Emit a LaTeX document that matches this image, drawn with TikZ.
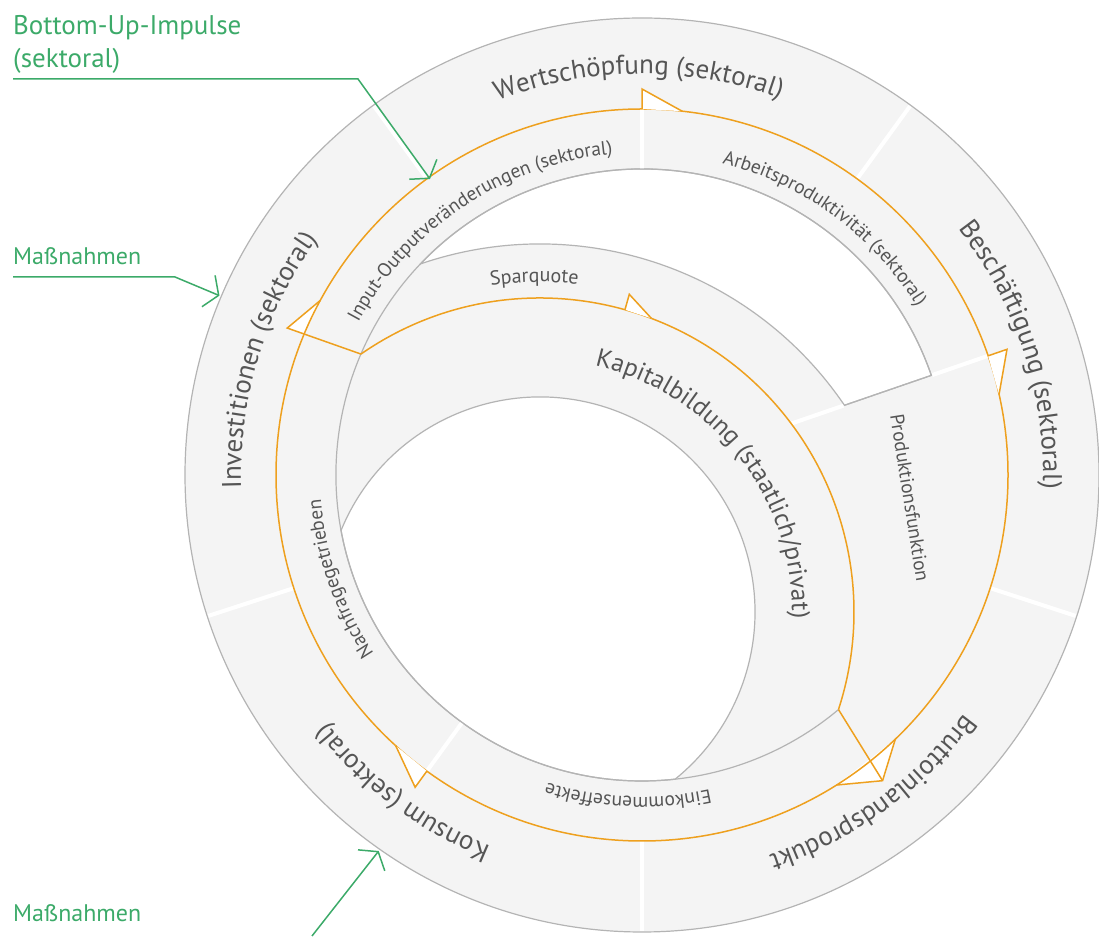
\documentclass[tikz,border=0pt]{standalone}
\usepackage{fontspec}
\setmainfont{PT Sans}
\usetikzlibrary{calc,decorations.text,arrows.meta}
\definecolor{bgray}{RGB}{244,244,244}
\definecolor{egray}{RGB}{180,180,180}
\definecolor{orng}{RGB}{238,160,30}
\definecolor{grn}{RGB}{60,170,105}
\definecolor{txtgray}{RGB}{85,85,85}
\newcommand\arctext[6]{%
 \path[decorate,decoration={text along path,text align=center,
   text={|\fontsize{#5pt}{#5pt}\selectfont\color{txtgray}|#6}}]
   ($(#1)+({#3+#4}:#2)$) arc[start angle={#3+#4}, end angle={#3-#4}, radius=#2];}
\begin{document}
\begin{tikzpicture}[x=1pt,y=1pt,
  edgeline/.style={draw=egray,line width=1.2pt},
  sepline/.style={draw=white,line width=4pt},
  orline/.style={draw=orng,line width=1.5pt,line join=miter},
  ohead/.style={fill=white,draw=orng,line width=1.5pt},
  garrow/.style={draw=grn,line width=1.5pt,-{Straight Barb[length=11pt,width=34pt,line width=1.5pt]}},
  glabel/.style={text=grn,inner sep=0pt,anchor=base west}]
\useasboundingbox (0,0) rectangle (1099,936);
\coordinate (M) at (642,461);
\coordinate (I) at (540,324);
% main disk
\fill[bgray] (M) circle[radius=457];
% white gap between the two inner bands
\path[fill=white,edgeline] ($(M)+(136.4:306)$) arc[start angle=136.4,end angle=19,radius=306]
  -- ($(M)+(19:214.1)$) arc[start angle=34.17,end angle=108.96,radius=368] -- cycle;
% white hole
\path[fill=white,edgeline] ($(M)+(190.43:306)$) arc[start angle=157.7,end angle=-51.04,radius=215]
  arc[start angle=276.23,end angle=190.43,radius=306] -- cycle;
% separators
\foreach \a in {126,54,-18,-90,198}
  \draw[sepline] ($(M)+(\a:366)$) -- ($(M)+(\a:456)$);
\foreach \a in {90,234}
  \draw[sepline] ($(M)+(\a:306)$) -- ($(M)+(\a:366)$);
\draw[sepline] ($(M)+(19:158)$) -- ($(M)+(19:213)$);
\draw[sepline] ($(M)+(19:307)$) -- ($(M)+(19:366)$);
% gray edges
\draw[edgeline] ($(M)+(19:306)$) arc[start angle=19,end angle=309.95,radius=306];
\draw[edgeline] ($(M)+(19:214.1)$) -- ($(M)+(19:306)$);
\draw[edgeline] (M) circle[radius=457];
% orange cycle
\coordinate (L) at ($(I)+(124.77:314)$);
\coordinate (R) at ($(I)+(-18.1:314)$);
\coordinate (tipL) at ($(M)+(157.5:384)$);
\coordinate (tipR) at ($(M)+(-51.8:389)$);
\fill[white] (tipL) -- ($(M)+(151.5:366)$) -- ($(M)+(157.35:366)$) -- cycle;
\fill[white] (tipR) -- ($(M)+(-46.2:366)$) -- ($(M)+(-57.9:366)$) -- cycle;
\draw[orline] (M) circle[radius=366];
\draw[orline] (L) arc[start angle=124.77,end angle=-18.1,radius=314];
\draw[orline] (L) -- (tipL) -- ($(M)+(151.5:366)$);
\draw[orline] (R) -- (tipR);
\draw[orline] ($(M)+(-46.2:366)$) -- (tipR) -- ($(M)+(-57.9:366)$);
\foreach \a in {90,19,234}
  \path[ohead] ($(M)+(\a:366)$) -- ($(M)+(\a:386)$) -- ($(M)+({\a-6.3}:366)$);
\path[ohead] ($(I)+(74.3:314)$) -- ($(I)+(74.3:330)$) -- ($(I)+(69.2:314)$);
% labels along arcs
\arctext{M}{401}{90.5}{40}{27}{Wertschöpfung (sektoral)}
\arctext{M}{401}{18}{40}{27}{Beschäftigung (sektoral)}
\arctext{M}{401}{-54}{40}{27}{Bruttoinlandsprodukt}
\arctext{M}{401}{233}{40}{27}{Konsum (sektoral)}
\arctext{M}{401}{163}{40}{27}{Investitionen (sektoral)}
\arctext{M}{322}{123.5}{40}{19.5}{Input-Outputveränderungen (sektoral)}
\arctext{M}{322}{53.5}{36}{19.5}{Arbeitsproduktivität (sektoral)}
\arctext{M}{322}{199}{30}{19.5}{Nachfragegetrieben}
\arctext{M}{322}{267.5}{30}{19.5}{Einkommenseffekte}
\arctext{I}{330}{91}{30}{20}{Sparquote}
\arctext{I}{252}{38}{55}{25.5}{Kapitalbildung (staatlich/privat)}
\node[rotate=-81,text=txtgray,font=\fontsize{19.5pt}{22pt}\selectfont] (prod) at (910,438) {Produktionsfunktion};
% green inputs
\node[glabel,font=\fontsize{27pt}{30pt}\selectfont] (bu1) at (13,901) {Bottom-Up-Impulse};
\node[glabel,font=\fontsize{27pt}{30pt}\selectfont] (bu2) at (13,868) {(sektoral)};
\node[glabel,font=\fontsize{24pt}{30pt}\selectfont] (mn1) at (13,671) {Maßnahmen};
\node[glabel,font=\fontsize{24pt}{30pt}\selectfont] (mn2) at (13,15) {Maßnahmen};
\coordinate (g1a) at (13,857);
\coordinate (g1b) at (358,857);
\coordinate (g1c) at (430,757);
\coordinate (g2a) at (13,659);
\coordinate (g2b) at (175,659);
\coordinate (g2c) at ($(M)+(157:459)$);
\coordinate (g3a) at (312,0);
\coordinate (g3c) at ($(M)+(235:459)$);
\draw[garrow] (g1a) -- (g1b) -- (g1c);
\draw[garrow] (g2a) -- (g2b) -- (g2c);
\draw[garrow] (g3a) -- (g3c);
\end{tikzpicture}
\end{document}
